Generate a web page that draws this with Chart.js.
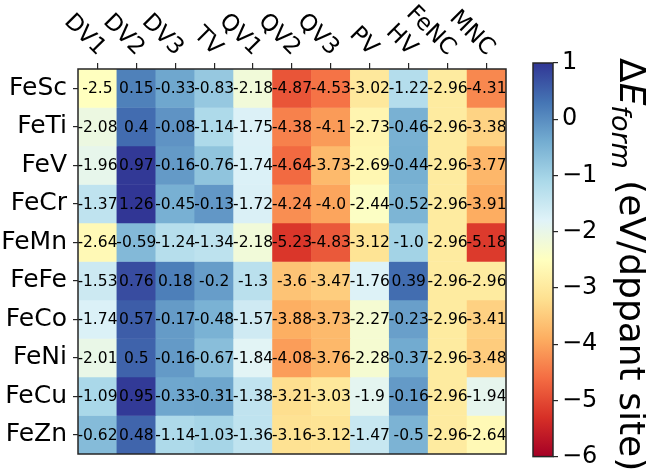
<!DOCTYPE html>
<html>
<head>
<meta charset="utf-8">
<script src="https://cdn.jsdelivr.net/npm/chart.js@4.4.0/dist/chart.umd.min.js"></script>
<style>
  body { margin: 0; background: #fff; }
  #wrap { position: relative; width: 646px; height: 475px; }
  canvas { position: absolute; top: 0; }
</style>
</head>
<body>
<div id="wrap">
  <canvas id="heat" width="520" height="475" style="left:0"></canvas>
  <canvas id="cbar" width="126" height="475" style="left:520px"></canvas>
</div>
<script>
// chart data
var dopants = ['FeSc', 'FeTi', 'FeV', 'FeCr', 'FeMn', 'FeFe', 'FeCo', 'FeNi', 'FeCu', 'FeZn'];
var sites = ['DV1', 'DV2', 'DV3', 'TV', 'QV1', 'QV2', 'QV3', 'PV', 'HV', 'FeNC', 'MNC'];
var eForm = [
  [-2.5, 0.15, -0.33, -0.83, -2.18, -4.87, -4.53, -3.02, -1.22, -2.96, -4.31],
  [-2.08, 0.4, -0.08, -1.14, -1.75, -4.38, -4.1, -2.73, -0.46, -2.96, -3.38],
  [-1.96, 0.97, -0.16, -0.76, -1.74, -4.64, -3.73, -2.69, -0.44, -2.96, -3.77],
  [-1.37, 1.26, -0.45, -0.13, -1.72, -4.24, -4.0, -2.44, -0.52, -2.96, -3.91],
  [-2.64, -0.59, -1.24, -1.34, -2.18, -5.23, -4.83, -3.12, -1.0, -2.96, -5.18],
  [-1.53, 0.76, 0.18, -0.2, -1.3, -3.6, -3.47, -1.76, 0.39, -2.96, -2.96],
  [-1.74, 0.57, -0.17, -0.48, -1.57, -3.88, -3.73, -2.27, -0.23, -2.96, -3.41],
  [-2.01, 0.5, -0.16, -0.67, -1.84, -4.08, -3.76, -2.28, -0.37, -2.96, -3.48],
  [-1.09, 0.95, -0.33, -0.31, -1.38, -3.21, -3.03, -1.9, -0.16, -2.96, -1.94],
  [-0.62, 0.48, -1.14, -1.03, -1.36, -3.16, -3.12, -1.47, -0.5, -2.96, -2.64]
];
var cbTicks = [1, 0, -1, -2, -3, -4, -5, -6];
var vmin = -6, vmax = 1;

// RdYlBu colormap
var rdylbu = ['#a50026', '#d73027', '#f46d43', '#fdae61', '#fee090', '#ffffbf',
              '#e0f3f8', '#abd9e9', '#74add1', '#4575b4', '#313695'];

function hexRgb(h) {
  return [parseInt(h.substr(1, 2), 16), parseInt(h.substr(3, 2), 16), parseInt(h.substr(5, 2), 16)];
}

function cmap(v) {
  var t = (v - vmin) / (vmax - vmin);
  t = Math.max(0, Math.min(1, t));
  var p = t * 10;
  var i = Math.min(9, Math.floor(p));
  var f = p - i;
  var a = hexRgb(rdylbu[i]), b = hexRgb(rdylbu[i + 1]);
  var c = a.map(function (x, k) { return Math.round(x + (b[k] - x) * f); });
  return 'rgb(' + c.join(',') + ')';
}

function fmt(v) {
  return Number.isInteger(v) ? v.toFixed(1) : String(v);
}

Chart.defaults.font.family = "'DejaVu Sans'";
Chart.defaults.color = '#000';

var edge = '#262626';

// one floating-bar dataset per row, spanning [row, row+1] on the reversed y scale
var rowSets = [];
for (var i = 0; i < dopants.length; i++) {
  rowSets.push({
    label: dopants[i],
    data: sites.map(function () { return [i, i + 1]; }),
    backgroundColor: eForm[i].map(cmap),
    borderWidth: 0,
    barPercentage: 1,
    categoryPercentage: 1
  });
}

var cellText = {
  id: 'cellText',
  afterDatasetsDraw: function (chart) {
    var ctx = chart.ctx;
    ctx.save();
    ctx.font = "15.5px 'DejaVu Sans'";
    ctx.fillStyle = '#000';
    ctx.textAlign = 'center';
    ctx.textBaseline = 'middle';
    chart.data.datasets.forEach(function (ds, i) {
      chart.getDatasetMeta(i).data.forEach(function (el, j) {
        ctx.fillText(fmt(eForm[i][j]), el.x, (el.y + el.base) / 2 + 1);
      });
    });
    ctx.restore();
  },
  afterDraw: function (chart) {
    var ctx = chart.ctx, a = chart.chartArea;
    ctx.save();
    ctx.strokeStyle = edge;
    ctx.lineWidth = 1.5;
    ctx.strokeRect(a.left, a.top, a.right - a.left, a.bottom - a.top);
    // column labels, rotated clockwise and ending at the tick
    var xs = chart.scales.x;
    ctx.font = "23px 'DejaVu Sans'";
    ctx.fillStyle = '#000';
    ctx.textAlign = 'right';
    ctx.textBaseline = 'middle';
    sites.forEach(function (s, j) {
      ctx.save();
      ctx.translate(xs.getPixelForTick(j) + 4, 52);
      ctx.rotate(Math.PI / 4);
      ctx.fillText(s, 0, 0);
      ctx.restore();
    });
    ctx.restore();
  }
};

new Chart(document.getElementById('heat'), {
  type: 'bar',
  data: { labels: sites, datasets: rowSets },
  options: {
    responsive: false,
    animation: false,
    devicePixelRatio: 1,
    layout: { padding: { top: 0, right: 14, bottom: 18, left: 0 } },
    plugins: { legend: { display: false }, tooltip: { enabled: false } },
    scales: {
      x: {
        type: 'category',
        position: 'top',
        stacked: true,
        offset: true,
        grid: { offset: false, drawOnChartArea: false, color: edge, tickLength: 6, lineWidth: 1.2 },
        border: { display: false },
        ticks: { display: false },
        afterFit: function (s) { s.height = 69; }
      },
      y: {
        type: 'linear',
        min: 0,
        max: 10,
        reverse: true,
        stacked: false,
        grid: { drawOnChartArea: false, color: edge, tickLength: 5, lineWidth: 1.2 },
        border: { display: false },
        afterBuildTicks: function (s) {
          s.ticks = dopants.map(function (d, i) { return { value: i + 0.5 }; });
        },
        ticks: {
          autoSkip: false,
          padding: 6,
          font: { size: 25 },
          callback: function (v, idx) { return dopants[idx]; }
        },
        afterFit: function (s) { s.width = 78; }
      }
    }
  },
  plugins: [cellText]
});

// colorbar
var cbTitle = {
  id: 'cbTitle',
  afterDraw: function (chart) {
    var ctx = chart.ctx, a = chart.chartArea;
    ctx.save();
    ctx.strokeStyle = edge;
    ctx.lineWidth = 1.5;
    ctx.strokeRect(a.left, a.top, a.right - a.left, a.bottom - a.top);
    ctx.translate(100, 58);
    ctx.rotate(Math.PI / 2);
    ctx.fillStyle = '#000';
    ctx.textBaseline = 'alphabetic';
    ctx.textAlign = 'left';
    var x = 0;
    ctx.font = "36px 'DejaVu Sans'";
    ctx.fillText('\u0394', x, 0);
    x += ctx.measureText('\u0394').width;
    ctx.font = "italic 36px 'DejaVu Sans'";
    ctx.fillText('E', x, 0);
    x += ctx.measureText('E').width;
    ctx.font = "italic 27px 'DejaVu Sans'";
    ctx.fillText('form', x, 8);
    x += ctx.measureText('form').width;
    ctx.font = "36px 'DejaVu Sans'";
    ctx.fillText(' (eV/dppant site)', x, 0);
    ctx.restore();
  }
};

new Chart(document.getElementById('cbar'), {
  type: 'bar',
  data: {
    labels: [''],
    datasets: [{
      data: [[vmin, vmax]],
      borderWidth: 0,
      barPercentage: 1,
      categoryPercentage: 1,
      backgroundColor: function (c) {
        var a = c.chart.chartArea;
        if (!a) return rdylbu[5];
        var g = c.chart.ctx.createLinearGradient(0, a.bottom, 0, a.top);
        rdylbu.forEach(function (col, k) { g.addColorStop(k / 10, col); });
        return g;
      }
    }]
  },
  options: {
    responsive: false,
    animation: false,
    devicePixelRatio: 1,
    layout: { padding: { top: 63, right: 0, bottom: 11, left: 13 } },
    plugins: { legend: { display: false }, tooltip: { enabled: false } },
    scales: {
      x: { display: false },
      y: {
        position: 'right',
        min: vmin,
        max: vmax,
        grid: { drawOnChartArea: false, color: edge, tickLength: 5, lineWidth: 1.2 },
        border: { display: false },
        afterBuildTicks: function (s) {
          s.ticks = cbTicks.map(function (v) { return { value: v }; });
        },
        ticks: {
          padding: 4,
          font: { size: 24 },
          callback: function (v) { return String(v).replace('-', '\u2212'); }
        },
        afterFit: function (s) { s.width = 93; }
      }
    }
  },
  plugins: [cbTitle]
});
</script>
</body>
</html>
